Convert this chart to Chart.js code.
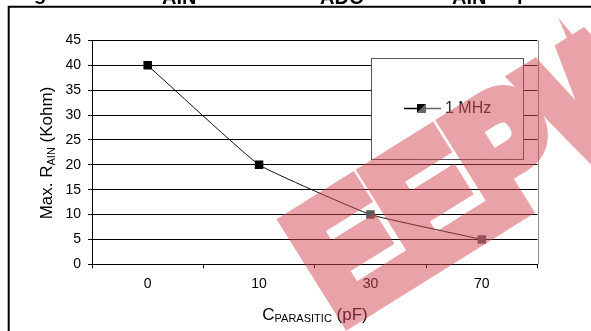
<!DOCTYPE html>
<html>
<head>
<meta charset="utf-8">
<script src="https://cdn.jsdelivr.net/npm/chart.js@4/dist/chart.umd.min.js"></script>
<style>
html,body{margin:0;padding:0;background:#fff;}
#wrap{width:591px;height:331px;position:relative;}
canvas{display:block;}
</style>
</head>
<body>
<div id="wrap"><canvas id="c" width="591" height="331"></canvas></div>
<script>
// ---- data ----
const categories = ['0', '10', '30', '70'];
const rainMax = [40, 20, 10, 5];
const seriesLabel = '1 MHz';
const yMin = 0, yMax = 45, yStep = 5;
const yTitleMain = 'Max. R', yTitleSub = 'AIN', yTitleEnd = ' (Kohm)';
const xTitleMain = 'C', xTitleSub = 'PARASITIC', xTitleEnd = ' (pF)';
const captionBits = [['g', 34, 0], ['AIN', 162, 4], ['ADC', 320, 4], ['AIN', 452, 4], ['p', 517, 0]];
const watermarkText = 'EEPW';

const FONT = '"Liberation Sans", Arial, sans-serif';

const decor = {
  id: 'decor',
  beforeDraw(chart) {
    const ctx = chart.ctx;
    ctx.save();
    ctx.fillStyle = '#fff';
    ctx.fillRect(0, 0, chart.width, chart.height);
    ctx.restore();
  },
  afterDatasetsDraw(chart) {
    const ctx = chart.ctx;
    const a = chart.chartArea;
    ctx.save();
    // right border of plot area
    ctx.strokeStyle = '#888';
    ctx.lineWidth = 1;
    ctx.beginPath();
    ctx.moveTo(Math.round(a.right) + 0.5, a.top);
    ctx.lineTo(Math.round(a.right) + 0.5, a.bottom);
    ctx.stroke();

    // legend box
    const lx = 371, ly = 58, lw = 152, lh = 101;
    ctx.fillStyle = '#fff';
    ctx.fillRect(lx, ly, lw, lh);
    ctx.strokeStyle = '#555';
    ctx.lineWidth = 1;
    ctx.strokeRect(lx + 0.5, ly + 0.5, lw, lh);
    const cy = 108.5;
    ctx.lineWidth = 1.5;
    ctx.strokeStyle = '#000';
    ctx.beginPath(); ctx.moveTo(404, cy); ctx.lineTo(421, cy); ctx.stroke();
    ctx.strokeStyle = '#666';
    ctx.beginPath(); ctx.moveTo(421, cy); ctx.lineTo(441, cy); ctx.stroke();
    ctx.fillStyle = '#000';
    ctx.beginPath(); ctx.moveTo(417, cy - 4.5); ctx.lineTo(426, cy - 4.5); ctx.lineTo(417, cy + 4.5); ctx.closePath(); ctx.fill();
    ctx.fillStyle = '#666';
    ctx.beginPath(); ctx.moveTo(426, cy - 4.5); ctx.lineTo(426, cy + 4.5); ctx.lineTo(417, cy + 4.5); ctx.closePath(); ctx.fill();
    ctx.fillStyle = '#222';
    ctx.font = '16px ' + FONT;
    ctx.textBaseline = 'middle';
    ctx.textAlign = 'left';
    ctx.fillText(chart.data.datasets[0].label, 445, cy);

    // y axis title with subscript
    ctx.save();
    ctx.translate(52, 153);
    ctx.rotate(-Math.PI / 2);
    ctx.fillStyle = '#000';
    ctx.textBaseline = 'alphabetic';
    const fMain = '17px ' + FONT, fSub = '11px ' + FONT;
    ctx.font = fMain; const w1 = ctx.measureText(yTitleMain).width; const w3 = ctx.measureText(yTitleEnd).width;
    ctx.font = fSub; const w2 = ctx.measureText(yTitleSub).width;
    let x0 = -(w1 + w2 + w3) / 2;
    ctx.font = fMain; ctx.fillText(yTitleMain, x0, 0);
    ctx.font = fSub; ctx.fillText(yTitleSub, x0 + w1, 3);
    ctx.font = fMain; ctx.fillText(yTitleEnd, x0 + w1 + w2, 0);
    ctx.restore();

    // x axis title with subscript
    ctx.fillStyle = '#000';
    ctx.textBaseline = 'alphabetic';
    ctx.font = fMain; const v1 = ctx.measureText(xTitleMain).width; const v3 = ctx.measureText(xTitleEnd).width;
    ctx.font = '11px ' + FONT; const v2 = ctx.measureText(xTitleSub).width;
    let xs = 315 - (v1 + v2 + v3) / 2;
    ctx.font = fMain; ctx.fillText(xTitleMain, xs, 320);
    ctx.font = '11px ' + FONT; ctx.fillText(xTitleSub, xs + v1, 322);
    ctx.font = fMain; ctx.fillText(xTitleEnd, xs + v1 + v2, 320);

    // outer frame
    ctx.strokeStyle = '#000';
    ctx.lineWidth = 2;
    ctx.beginPath();
    ctx.moveTo(8.7, 331); ctx.lineTo(8.7, 6.7); ctx.lineTo(591, 6.7);
    ctx.stroke();

    // clipped caption fragments above the frame
    ctx.font = 'bold 20px ' + FONT;
    ctx.fillStyle = '#000';
    captionBits.forEach(([t, x, y]) => ctx.fillText(t, x, y));
    ctx.restore();
  },
  afterDraw(chart) {
    const ctx = chart.ctx;
    const off = document.createElement('canvas');
    off.width = chart.width; off.height = chart.height;
    const o = off.getContext('2d');
    o.translate(340, 324);
    o.rotate(-32 * Math.PI / 180);
    o.scale(0.85, 1);
    o.font = 'bold 165px ' + FONT;
    o.fillStyle = o.strokeStyle = 'rgb(213,71,81)';
    o.lineWidth = 18;
    o.lineJoin = 'miter';
    o.textBaseline = 'alphabetic';
    o.fillText(watermarkText, 0, 0);
    o.strokeText(watermarkText, 0, 0);
    ctx.save();
    ctx.globalAlpha = 0.5;
    ctx.drawImage(off, 0, 0);
    ctx.restore();
  }
};

new Chart(document.getElementById('c'), {
  type: 'line',
  data: {
    labels: categories,
    datasets: [{
      label: seriesLabel,
      data: rainMax,
      borderColor: '#111',
      borderWidth: 1,
      tension: 0.1,
      pointStyle: 'rect',
      pointRadius: 6,
      pointHoverRadius: 6,
      pointBorderWidth: 0,
      pointBackgroundColor: ['#000', '#000', '#5a5a5a', '#5a5a5a'],
      pointBorderColor: ['#000', '#000', '#5a5a5a', '#5a5a5a'],
      fill: false
    }]
  },
  options: {
    responsive: false,
    animation: false,
    devicePixelRatio: 1,
    layout: { padding: { left: 0, right: 53.5, top: 40.5, bottom: 0 } },
    plugins: { legend: { display: false }, tooltip: { enabled: false }, title: { display: false } },
    scales: {
      x: {
        type: 'category',
        offset: true,
        grid: { offset: true, drawOnChartArea: false, drawTicks: true, tickLength: 4, color: '#000', lineWidth: 1 },
        border: { display: true, color: '#000', width: 1 },
        ticks: { color: '#000', font: { family: FONT, size: 14 }, padding: 7, maxRotation: 0 },
        afterFit(s) { s.height = 66.7; }
      },
      y: {
        min: yMin, max: yMax,
        ticks: { stepSize: yStep, color: '#000', font: { family: FONT, size: 14 }, padding: 7 },
        grid: { color: '#000', lineWidth: 1, tickLength: 4, drawTicks: true },
        border: { display: true, color: '#000', width: 1 },
        afterFit(s) { s.width = 92; }
      }
    }
  },
  plugins: [decor]
});
</script>
</body>
</html>
